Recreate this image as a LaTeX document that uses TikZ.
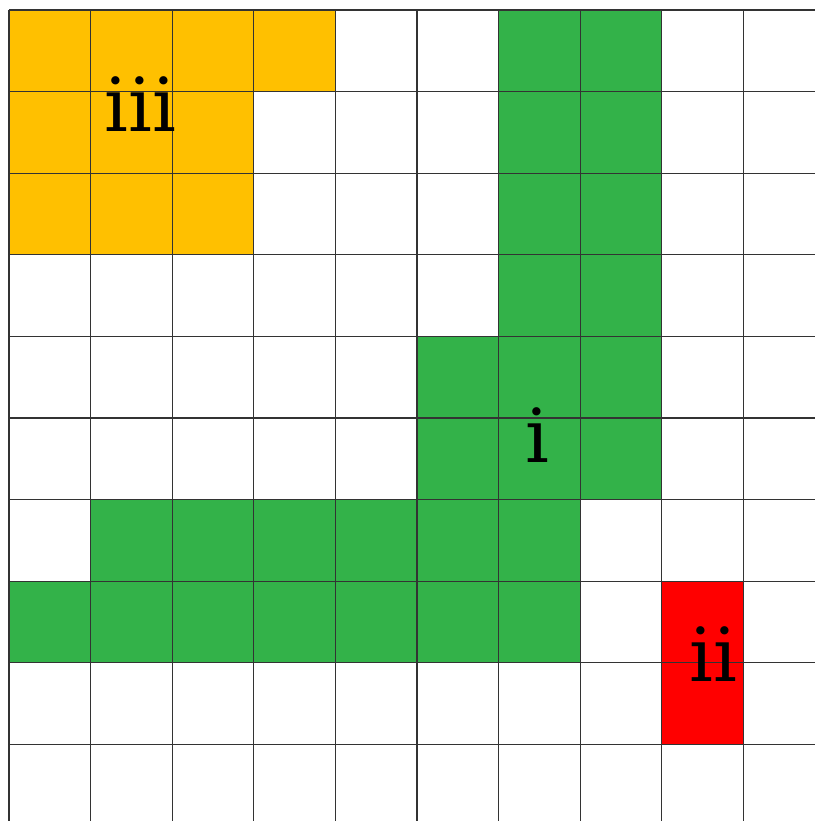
\documentclass[tikz,border=0pt]{standalone}
\usepackage{fontspec}
\setmainfont{DejaVu Serif}
\definecolor{cOrange}{HTML}{FFC000}
\definecolor{cGreen}{HTML}{33B249}
\definecolor{cRed}{HTML}{FF0000}
\definecolor{cGrid}{HTML}{333333}
\begin{document}
\begin{tikzpicture}[x=1cm,y=1cm,
  gridline/.style={draw=cGrid,line width=0.4pt},
  lab/.style={anchor=base,inner sep=0pt,font=\fontsize{26}{30}\selectfont,text=black}]
\useasboundingbox (-0.110,0.1225) rectangle (9.877,-9.939);
\clip (-0.110,0.1225) rectangle (9.877,-9.939);
\fill[white] (-0.110,0.1225) rectangle (9.877,-9.939);
% orange region
\foreach \c/\r in {0/0,1/0,2/0,3/0,0/1,1/1,2/1,0/2,1/2,2/2}
  \fill[cOrange] (\c,-\r) rectangle ++(1,-1);
% green region
\foreach \c/\r in {6/0,7/0,6/1,7/1,6/2,7/2,6/3,7/3,5/4,6/4,7/4,5/5,6/5,7/5,
  1/6,2/6,3/6,4/6,5/6,6/6,0/7,1/7,2/7,3/7,4/7,5/7,6/7}
  \fill[cGreen] (\c,-\r) rectangle ++(1,-1);
% red region
\foreach \c/\r in {8/7,8/8}
  \fill[cRed] (\c,-\r) rectangle ++(1,-1);
% grid
\draw[gridline] (0,-11) grid (11,0);
% labels
\node[lab] (liii) at (1.61,-1.483) {iii};
\node[lab] (li) at (6.48,-5.54) {i};
\node[lab] (lii) at (8.63,-8.235) {ii};
\end{tikzpicture}
\end{document}
